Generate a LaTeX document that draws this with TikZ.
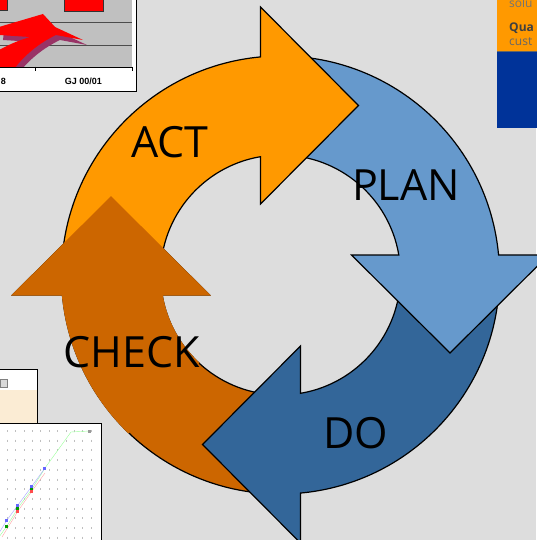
\documentclass[tikz,border=0pt]{standalone}
\usepackage{fontspec}
\setmainfont{Open Sans}
\newfontfamily\chartfont{Liberation Sans}
\definecolor{color1}{RGB}{255,153,0}
\definecolor{color2}{RGB}{102,153,204}
\definecolor{color3}{RGB}{51,102,153}
\definecolor{color4}{RGB}{204,102,0}
\definecolor{bggray}{RGB}{221,221,221}
\definecolor{plotgray}{RGB}{192,192,192}
\definecolor{navy}{RGB}{0,51,153}
\definecolor{beige}{RGB}{251,236,212}
\definecolor{shadowpurple}{RGB}{153,51,102}

\begin{document}
\begin{tikzpicture}[x=1pt,y=1pt,
		outline/.style={draw=black,line width=1.2pt},
		stagetext/.style={font=\fontsize{43}{43}\selectfont,inner sep=0pt},
		ticktext/.style={font=\chartfont\bfseries\fontsize{9}{9}\selectfont,inner sep=0pt},
		boxtext/.style={font=\fontsize{12}{12}\selectfont,inner sep=0pt,anchor=west}]
		\path[use as bounding box,fill=bggray] (-280.5,-265) rectangle (255.5,275);

		% the four arrows, each one rotated a quarter turn
		\foreach \ang/\col in {90/color4,-180/color3,-90/color2,0/color1}
		{
			\filldraw[outline,fill=\col,rotate=\ang] (180:219) arc[start angle=180,end angle=95.24,radius=219]
				-- (-20,268) -- (78,169.5) -- (-20,71) -- (99.59:120) arc[start angle=99.59,end angle=180,radius=120] -- cycle;
		}
		% check head lies over act
		\filldraw[fill=color4,draw=color4,line width=1.2pt,rotate=90] (136:219) arc[start angle=136,end angle=95.24,radius=219]
			-- (-20,268) -- (78,169.5) -- (-20,71) -- (99.59:120) arc[start angle=99.59,end angle=137,radius=120] -- cycle;

		\node[stagetext] (act) at (-110.5,133) {ACT};
		\node[stagetext] (plan) at (125.5,90) {PLAN};
		\node[stagetext] (do) at (75.5,-158) {DO};
		\node[stagetext] (check) at (-148.5,-77) {CHECK};

		% screenshot pieces at the corners (pixel coordinates)
		\begin{scope}[shift={(-280.5,275)},yscale=-1]
			% top left chart
			\fill[white] (-1,-1) rectangle (137,92);
			\fill[plotgray] (-1,-1) rectangle (132,67);
			\draw[black!70] (-1,22) -- (132,22) (-1,45) -- (132,45);
			\draw (-1,67) -- (132,67) (35,67) -- (35,71) (132,67) -- (132,71);
			\filldraw[fill=red,draw=black!80] (-2,-2) rectangle (7,10);
			\filldraw[fill=red,draw=black!80] (64,-2) rectangle (103,11);
			\fill[shadowpurple,shift={(4,5)}] (0,27) -- (43,14) -- (55,27) -- (83,40) -- (56,35) .. controls (35,45) and (20,60) .. (12,72)
				-- (-1,72) -- (-1,50) .. controls (10,44) and (20,40) .. (30,37) -- (-1,35) -- cycle;
			\fill[red] (-1,27) -- (43,14) -- (55,27) -- (83,40) -- (56,35) .. controls (35,45) and (20,60) .. (12,72)
				-- (-1,72) -- (-1,50) .. controls (10,44) and (20,40) .. (30,37) -- (-1,35) -- cycle;
			\fill[white] (-1,67.5) rectangle (131.5,91);
			\draw (-1,67) -- (132,67) (35,67) -- (35,71) (132,67) -- (132,71);
			\node[ticktext,anchor=east] (yr) at (6,81) {8};
			\node[ticktext] (gj) at (83.5,81) {GJ 00/01};
			\draw[line width=1pt] (137,-1) -- (137,92) -- (-1,92);

			% top right box
			\fill[color1] (497,-1) rectangle (537,51);
			\fill[navy] (497,51) rectangle (537,128);
			\draw[black!60] (497,51) -- (537,51);
			\node[boxtext,text=black!55] (solu) at (509,3) {solu};
			\node[boxtext,text=black!75,font=\bfseries\fontsize{12}{12}\selectfont] (qua) at (509,28) {Qua};
			\node[boxtext,text=black!60] (cust) at (509,42) {cust};

			% bottom left window
			\fill[white] (-1,369) rectangle (37,424);
			\fill[beige] (-1,390) rectangle (37,424);
			\filldraw[fill=black!15,draw=black!50] (0,379) rectangle (7,387);
			\draw (-1,369) -- (37,369) -- (37,424);

			% bottom left chart
			\fill[white] (-1,423) rectangle (101,541);
			\foreach \gx in {7,15.4,...,96}
				\draw[black!25,dash pattern=on 2pt off 7.7pt] (\gx,430) -- (\gx,541);
			\draw[green!40] (90,431) -- (71,432) -- (45,468) -- (32,489) -- (18,508) -- (7,526) -- (-1,537);
			\draw[blue!35] (45,468) -- (32,486) -- (18,505) -- (7,520) -- (-1,533);
			\draw[red!35] (45,473) -- (32,491) -- (18,511) -- (2,537);
			\foreach \mx/\my/\mc in {90/431/black!40,45/468/blue!60,32/486/blue!60,32/489/green!60!black,32/491/red!70,
				18/505/blue!60,18/508/green!60!black,18/511/red!70,7/520/blue!60,7/526/green!60!black}
				\fill[\mc] (\mx-1.5,\my-1.5) rectangle ++(3,3);
			\draw (-1,423) -- (101,423) -- (101,541);
		\end{scope}
\end{tikzpicture}
\end{document}
